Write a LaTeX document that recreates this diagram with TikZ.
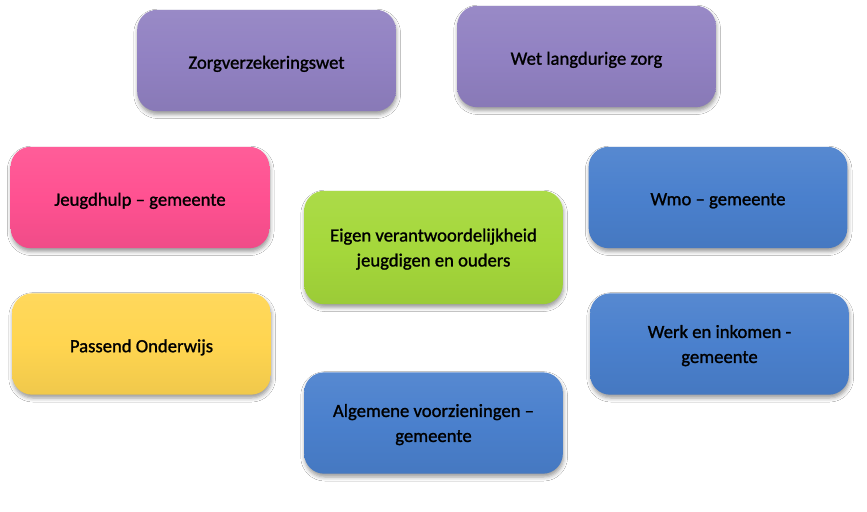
\documentclass[tikz,border=0pt]{standalone}
\usepackage{fontspec}
\setmainfont{Carlito}
\newfontfamily\cardfont{Carlito}[FakeBold=1.2]
\usetikzlibrary{shadows.blur}
\definecolor{purpleA}{HTML}{9181C2}
\definecolor{pinkA}{HTML}{FF5191}
\definecolor{greenA}{HTML}{A5D83B}
\definecolor{yellowA}{HTML}{FFD550}
\definecolor{blueA}{HTML}{4A80CD}
\tikzset{
  x=0.75pt, y=-0.75pt,
  card/.style={rounded corners=15pt, minimum width=194pt, minimum height=76pt, inner sep=0pt,
    blur shadow={shadow xshift=0.5pt, shadow yshift=-2.5pt, shadow blur radius=3pt, shadow opacity=40}},
  cardc/.style={card, top color=#1!93!white, bottom color=#1!94!black, middle color=#1},
  txt/.style={align=center, font=\cardfont\fontsize{14}{18.75}\selectfont, text=black, inner sep=0pt},
}
\begin{document}
\begin{tikzpicture}
\useasboundingbox (0,0) rectangle (867,511);
\fill[white] (0,0) rectangle (867,511);
\node[cardc=purpleA] (zvw) at (266.5,60.5) {};
\node[cardc=purpleA] (wlz) at (586.5,56.5) {};
\node[cardc=pinkA] (jeugd) at (140,197.5) {};
\node[cardc=blueA] (wmo) at (718,197.5) {};
\node[cardc=greenA, minimum height=85pt] (eigen) at (433.5,247.5) {};
\node[cardc=yellowA] (po) at (141.5,344) {};
\node[cardc=blueA] (werk) at (719.5,344) {};
\node[cardc=blueA] (alg) at (433.5,423) {};
\node[txt] (zvwt) at ([yshift=-2.5pt]zvw.center) {Zorgverzekeringswet};
\node[txt] (wlzt) at ([yshift=-2.5pt]wlz.center) {Wet langdurige zorg};
\node[txt] (jeugdt) at ([yshift=-2.5pt]jeugd.center) {Jeugdhulp – gemeente};
\node[txt] (wmot) at ([yshift=-2.5pt]wmo.center) {Wmo – gemeente};
\node[txt] (eigent) at ([yshift=-1.2pt]eigen.center) {Eigen verantwoordelijkheid\\jeugdigen en ouders};
\node[txt] (pot) at ([yshift=-2.5pt]po.center) {Passend Onderwijs};
\node[txt] (werkt) at ([yshift=-1.2pt]werk.center) {Werk en inkomen -\\gemeente};
\node[txt] (algt) at ([yshift=-1.2pt]alg.center) {Algemene voorzieningen –\\gemeente};
\end{tikzpicture}
\end{document}
